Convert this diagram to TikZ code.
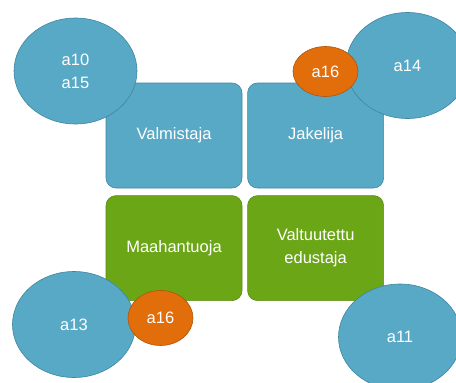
\documentclass[tikz,border=0pt]{standalone}
\usepackage{fontspec}
\setmainfont{Liberation Sans}
\usetikzlibrary{positioning, shapes, shapes.geometric}

\definecolor{roleblue}{HTML}{58A9C6}
\definecolor{roleblueline}{HTML}{3F86A0}
\definecolor{rolegreen}{HTML}{6BA617}
\definecolor{rolegreenline}{HTML}{5A8C14}
\definecolor{tagorange}{HTML}{E26D0B}
\definecolor{tagorangeline}{HTML}{B0560A}

\begin{document}
\begin{tikzpicture}[
        x=1pt, y=-1pt,
        node distance=5pt,
        font=\fontsize{16.5}{23}\selectfont,
        role/.style={rectangle, rounded corners=10pt, draw, line width=0.6pt, align=center, text=white, minimum width=136pt, minimum height=105pt, inner sep=0pt, text depth=4pt},
        bluerole/.style={role, fill=roleblue, draw=roleblueline},
        greenrole/.style={role, fill=rolegreen, draw=rolegreenline},
        article/.style={ellipse, draw=roleblueline, line width=0.6pt, fill=roleblue, text=white, align=center, minimum width=123pt, minimum height=106pt, inner sep=0pt},
        tag/.style={ellipse, draw=tagorangeline, line width=0.6pt, fill=tagorange, text=white, minimum width=65pt, minimum height=50pt, inner sep=0pt}
    ]
        \useasboundingbox (0,0) rectangle (456,383);

        \node[bluerole] (valm) at (174,135.5) {Valmistaja};
        \node[bluerole, right=5pt of valm] (jak) {Jakelija};
        \node[greenrole, below=7pt of valm] (maah) {Maahantuoja};
        \node[greenrole, below=7pt of jak] (valt) {Valtuutettu\\edustaja};

        \node[article] (a1015) at (75.5,71) {a10\\a15};
        \node[article] (a14) at (407.5,65.5) {a14};
        \node[article] (a13) at (74,324.5) {a13};
        \node[article] (a11) at (400,337) {a11};

        \node[tag] (a16top) at (325.5,71.5) {a16};
        \node[tag, minimum height=55pt] (a16bot) at (160.5,318) {a16};
    \end{tikzpicture}
\end{document}
